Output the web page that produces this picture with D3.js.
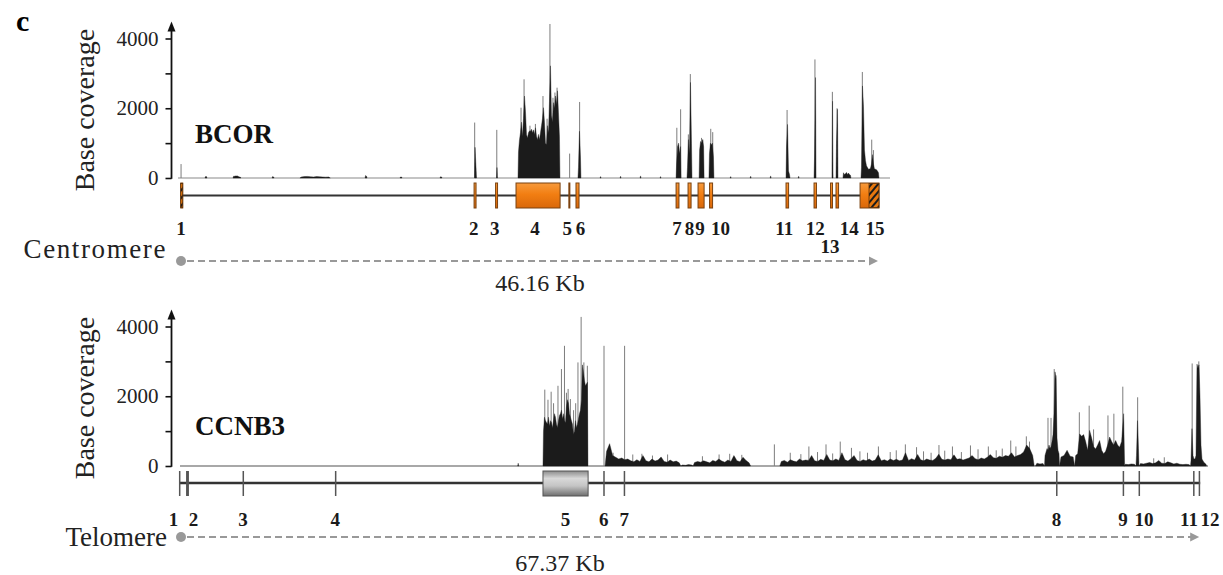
<!DOCTYPE html>
<html>
<head>
<meta charset="utf-8">
<script src="https://cdn.jsdelivr.net/npm/d3@7"></script>
<style>
  html, body { margin: 0; padding: 0; background: #fff; }
  svg { display: block; font-family: "Liberation Serif", "Times New Roman", serif; }
</style>
</head>
<body>
<svg id="chart" width="1223" height="575"></svg>
<script>
// ---------------- data ----------------
const bcorLengthKb = 46.16;
const ccnb3LengthKb = 67.37;

const coverageTicks = [0, 1000, 2000, 3000, 4000];
const coverageTickLabels = ["0", "", "2000", "", "4000"];

// exons: [startKb, endKb]
const bcorExons = [
  [0.05, 0.18], [19.42, 19.55], [20.84, 20.97], [22.19, 25.10], [25.68, 25.73],
  [26.15, 26.35], [32.76, 32.95], [33.55, 33.75], [34.21, 34.61], [34.97, 35.17],
  [40.02, 40.19], [41.87, 42.03], [42.96, 43.09], [43.32, 43.49], [44.91, 46.16]
];
const bcorExonLabels = ["1","2","3","4","5","6","7","8","9","10","11","12","13","14","15"];
// untranslated parts (hatched)
const bcorUtr = [[0.05, 0.18], [45.50, 46.16]];

// read depth runs: [startKb, binKb, depths...]
const bcorDepthRuns = [
  [1.65, 0.066, [40, 40]],
  [3.50, 0.066, [50, 50, 60, 60, 60, 40, 30, 20]],
  [6.08, 0.066, [40, 30]],
  [7.92, 0.2, [30, 40, 45, 35, 30, 40, 35, 30, 25, 30]],
  [12.22, 0.066, [70, 50]],
  [14.53, 0.066, [30, 30]],
  [17.17, 0.066, [35, 30]],
  [19.45, 0.066, [880, 300]],
  [20.90, 0.066, [300]],
  [22.32, 0.066, [750, 1100, 1300, 1600, 1200, 1700, 2350, 1900, 1250, 1150,
                  1300, 1350, 1340, 1400, 1300, 1380, 1250, 1440, 1200, 1100,
                  1250, 1100, 1300, 1500, 1700, 2016, 1600, 1000, 960, 1500,
                  1300, 2200, 3216, 1800, 1600, 2160, 2000, 2350, 2100, 2500,
                  1870, 1200]],
  [26.28, 0.066, [300, 1340, 600]],
  [27.74, 0.066, [40]], [29.06, 0.066, [50]], [30.38, 0.066, [60]], [31.70, 0.066, [40]],
  [32.76, 0.066, [400, 900, 1000, 700, 900]],
  [33.48, 0.066, [300, 1100, 700, 2740, 1000]],
  [34.28, 0.066, [800, 1050, 1000, 1100, 900]],
  [34.93, 0.066, [700, 1000, 950, 1000, 600]],
  [36.33, 0.066, [40]], [37.65, 0.066, [50]], [38.97, 0.066, [60]],
  [40.02, 0.066, [900, 1536, 200, 100]],
  [40.82, 0.066, [50]],
  [41.87, 0.066, [600, 2880]],
  [43.06, 0.066, [2200]],
  [43.32, 0.066, [1000, 1970]],
  [43.78, 0.066, [150, 100, 120, 160, 100, 140, 100, 80]],
  [44.97, 0.066, [300, 2640, 2060, 800, 500, 350, 300, 250, 260, 280, 400, 670, 400, 260, 250, 240, 200, 150]]
];
// single-base maxima: [kb, depth]
const bcorPeaks = [
  [0.07, 400], [19.46, 1590], [20.92, 1380], [22.52, 2016], [22.72, 2830], [23.11, 1500],
  [23.47, 1550], [23.97, 2350], [24.24, 1700], [24.43, 4416], [24.63, 2300], [24.76, 2450],
  [24.90, 2590], [25.73, 700], [26.39, 2180], [32.81, 1440], [33.06, 1970], [33.57, 1250],
  [33.70, 2980], [34.44, 1150], [34.52, 1100], [35.05, 1410], [35.18, 1315], [40.09, 1950],
  [41.93, 3400], [43.08, 2470], [43.39, 2000], [45.06, 3040], [45.68, 1100], [45.79, 800]
];

const ccnb3Exons = [
  [-0.07, -0.01], [0.40, 0.59], [4.13, 4.19], [10.23, 10.29], [23.97, 26.95],
  [27.95, 28.01], [29.30, 29.36], [57.85, 57.91], [62.25, 62.31], [63.30, 63.36],
  [66.90, 66.96], [67.27, 67.33]
];
const ccnb3ExonLabels = ["1","2","3","4","5","6","7","8","9","10","11","12"];

const ccnb3DepthRuns = [
  [22.30, 0.066, [80]],
  [23.97, 0.066, [1000, 1400, 1300, 1250, 1200, 1400, 1150, 1300, 1250, 1100,
                  1300, 1500, 1400, 1200, 1100, 1300, 1450, 1500, 1600, 1350,
                  1500, 1300, 1250, 1700, 1900, 1800, 1500, 1400, 1300, 1200,
                  900, 1000, 1300, 1100, 1200, 1350, 1500, 1600, 1900, 2900,
                  2700, 2450, 2300, 2350, 2400]],
  [28.07, 0.2, [420, 640, 300, 250, 200, 230, 180, 200, 150, 120, 180, 130, 300,
                150, 120, 200, 140, 170, 260, 130, 110, 170, 120, 140, 90]],
  [33.08, 0.2, [30, 20, 40, 30]],
  [33.88, 0.2, [100, 130, 110, 150, 120, 90, 160, 130, 200, 140, 110, 170, 130,
                300, 150, 120, 250, 160, 90]],
  [39.61, 0.2, [130, 160, 110, 180, 140, 120, 200, 150, 170, 160, 300, 150, 130, 190,
                160, 330, 170, 150, 200, 160, 380, 180, 140, 210, 300, 160, 130, 180,
                150, 200, 140, 170, 320, 150, 180, 140, 200, 160, 190, 150, 170, 380,
                160, 210, 170, 330, 180, 150, 200, 170, 160, 220, 340, 190, 170, 200,
                180, 320, 190, 210, 170, 200, 230, 300, 210, 180, 230, 200, 250, 330,
                240, 220, 280, 250, 300, 280, 380, 260, 300, 330, 400, 600, 500, 300]],
  [56.49, 0.2, [80, 60, 70]],
  [57.09, 0.066, [300, 400, 500, 450, 600, 500, 550, 700, 900, 1500, 2700, 2500, 800, 450, 350]],
  [58.08, 0.2, [260, 300, 450, 280, 260]],
  [59.08, 0.132, [300, 350, 920, 850, 900, 700, 450, 1020, 800, 550, 490, 600, 730,
                  450, 350, 420, 600, 830, 700, 600, 730, 600, 540, 700, 1500]],
  [62.33, 0.2, [50, 40, 60, 50]],
  [63.13, 0.066, [300, 1300, 500]],
  [63.33, 0.2, [70, 60, 80, 100, 70, 90, 160, 80, 70, 120, 90, 60, 80, 50, 40, 50, 40]],
  [66.73, 0.066, [150, 1070, 300, 200, 200, 300, 2920, 2800, 2900, 2000, 600, 200, 150, 100, 80, 50]]
];
const ccnb3Peaks = [
  [24.09, 2190], [24.30, 1900], [24.51, 2130], [24.67, 1800], [24.96, 2300], [25.19, 2780],
  [25.39, 3446], [25.52, 2100], [25.63, 2210], [25.78, 1920], [25.99, 1600], [26.13, 1800],
  [26.28, 2970], [26.49, 4275], [26.67, 2970], [26.90, 2875], [28.00, 3446], [29.36, 3446],
  [28.60, 380], [29.90, 330], [30.50, 350], [31.20, 300], [32.20, 330], [34.50, 280],
  [35.60, 330], [36.30, 350], [37.10, 320],
  [39.25, 620], [40.30, 380], [41.00, 340], [41.53, 560], [42.10, 400], [42.66, 620],
  [43.10, 360], [43.60, 700], [44.34, 520], [44.90, 420], [45.40, 380], [46.12, 560],
  [46.90, 400], [47.30, 450], [47.90, 620], [48.64, 540], [49.10, 420], [49.60, 380],
  [50.12, 600], [50.50, 440], [51.01, 560], [51.60, 400], [52.20, 590], [52.70, 480],
  [53.38, 560], [53.90, 450], [54.30, 500], [54.86, 730], [55.20, 560], [55.89, 850],
  [56.10, 700], [57.32, 1380], [57.52, 1380], [57.73, 2780], [57.85, 2600],
  [59.39, 1540], [60.04, 1730], [60.33, 1050], [61.28, 1450], [61.67, 1500], [62.26, 2275],
  [63.24, 1970], [64.30, 220], [65.00, 250], [66.84, 2940], [67.28, 3000]
];

// ---------------- drawing ----------------
const svg = d3.select("#chart");
const PX_PER_KB = 15.143;
const ORIGIN_X = 180;
const AXIS_X = 171.5;

const defs = svg.append("defs");
const og = defs.append("linearGradient").attr("id", "exonOrange")
  .attr("x1", 0).attr("y1", 0).attr("x2", 0).attr("y2", 1);
og.append("stop").attr("offset", "0%").attr("stop-color", "#f79a3c");
og.append("stop").attr("offset", "45%").attr("stop-color", "#f27e12");
og.append("stop").attr("offset", "100%").attr("stop-color", "#d9680a");

const gg = defs.append("linearGradient").attr("id", "exonGrey")
  .attr("x1", 0).attr("y1", 0).attr("x2", 0).attr("y2", 1);
gg.append("stop").attr("offset", "0%").attr("stop-color", "#8c8c8c");
gg.append("stop").attr("offset", "30%").attr("stop-color", "#d9d9d9");
gg.append("stop").attr("offset", "60%").attr("stop-color", "#c4c4c4");
gg.append("stop").attr("offset", "100%").attr("stop-color", "#6e6e6e");

const hatch = defs.append("pattern").attr("id", "utrHatch")
  .attr("patternUnits", "userSpaceOnUse").attr("width", 5).attr("height", 5)
  .attr("patternTransform", "rotate(40)");
hatch.append("rect").attr("width", 5).attr("height", 5).attr("fill", "#e8780e");
hatch.append("rect").attr("width", 2).attr("height", 5).attr("fill", "#1c1c1c");

svg.append("text").attr("x", 16).attr("y", 31)
  .attr("font-size", 30).attr("font-weight", "bold").text("c");

function drawPanel(cfg) {
  const g = svg.append("g");
  const x = d3.scaleLinear().domain([0, cfg.lengthKb])
    .range([ORIGIN_X, ORIGIN_X + cfg.lengthKb * PX_PER_KB]);
  const y = d3.scaleLinear().domain([0, 4000]).range([cfg.y0, cfg.y0 - 139.5]);

  // y axis
  const axis = d3.axisLeft(y).tickValues(coverageTicks)
    .tickFormat((d, i) => coverageTickLabels[i]).tickSize(6).tickPadding(7);
  const ag = g.append("g").attr("transform", `translate(${AXIS_X},0)`).call(axis);
  ag.select(".domain").remove();
  ag.selectAll(".tick line").attr("stroke", "#111").attr("stroke-width", 1.6);
  ag.selectAll(".tick text").attr("font-size", 21).attr("fill", "#222")
    .attr("font-family", "Liberation Serif, serif");
  const tipY = y(4000) - 17;
  g.append("line").attr("x1", AXIS_X).attr("x2", AXIS_X)
    .attr("y1", y(0) + 0.8).attr("y2", tipY + 6)
    .attr("stroke", "#111").attr("stroke-width", 1.8);
  g.append("path")
    .attr("d", `M${AXIS_X},${tipY} L${AXIS_X - 4},${tipY + 10} L${AXIS_X + 4},${tipY + 10} Z`)
    .attr("fill", "#111");

  g.append("text")
    .attr("transform", `translate(94,${y(0) - 68}) rotate(-90)`)
    .attr("text-anchor", "middle").attr("font-size", 28).attr("fill", "#222")
    .text("Base coverage");

  g.append("text").attr("x", 195).attr("y", cfg.nameY)
    .attr("font-size", 27).attr("font-weight", "bold").attr("fill", "#111")
    .text(cfg.name);

  // coverage baseline
  g.append("line").attr("x1", cfg.baseX0).attr("x2", cfg.baseX1)
    .attr("y1", y(0)).attr("y2", y(0))
    .attr("stroke", cfg.baseColor).attr("stroke-width", cfg.baseWidth);

  // single-base maxima (thin grey lines)
  g.append("g").selectAll("line").data(cfg.peaks).join("line")
    .attr("x1", d => x(d[0])).attr("x2", d => x(d[0]))
    .attr("y1", y(0)).attr("y2", d => y(d[1]))
    .attr("stroke", "#7d7d7d").attr("stroke-width", 1);

  // binned depth: one filled profile per run
  const profile = d3.area().x(d => x(d[0])).y0(y(0)).y1(d => y(d[1]));
  const runPoints = cfg.runs.map(([start, step, vals]) => [
    [start, 0],
    ...vals.map((v, i) => [start + (i + 0.5) * step, v]),
    [start + vals.length * step, 0]
  ]);
  g.append("g").selectAll("path").data(runPoints).join("path")
    .attr("d", profile).attr("fill", "#1b1b1b")
    .attr("stroke", "#1b1b1b").attr("stroke-width", 0.4);

  // gene structure
  g.append("line").attr("x1", x(0)).attr("x2", x(cfg.lengthKb))
    .attr("y1", cfg.geneY).attr("y2", cfg.geneY)
    .attr("stroke", "#333").attr("stroke-width", cfg.geneLineWidth);

  cfg.drawExons(g, x);

  // exon numbers
  g.append("g").selectAll("text").data(cfg.exons).join("text")
    .attr("x", (d, i) => x((d[0] + d[1]) / 2) + cfg.labelNudge[i])
    .attr("y", (d, i) => cfg.labelY + (cfg.secondRow.includes(i) ? 18 : 0))
    .attr("text-anchor", "middle").attr("font-size", 19).attr("font-weight", "bold")
    .attr("fill", "#1a1a1a")
    .text((d, i) => cfg.labels[i]);

  // orientation arrow
  g.append("circle").attr("cx", x(0) + 1).attr("cy", cfg.arrowY).attr("r", 5).attr("fill", "#999");
  const endX = x(cfg.lengthKb) - 1;
  g.append("line").attr("x1", x(0) + 7).attr("x2", endX - 6)
    .attr("y1", cfg.arrowY).attr("y2", cfg.arrowY)
    .attr("stroke", "#999").attr("stroke-width", 2.2).attr("stroke-dasharray", "7 4");
  g.append("path")
    .attr("d", `M${endX},${cfg.arrowY} L${endX - 9},${cfg.arrowY - 4.5} L${endX - 9},${cfg.arrowY + 4.5} Z`)
    .attr("fill", "#999");
  g.append("text").attr("x", 167).attr("y", cfg.endLabelY)
    .attr("text-anchor", "end").attr("font-size", 27).attr("fill", "#222")
    .attr("letter-spacing", cfg.endLabelSpacing)
    .text(cfg.endLabel);
  g.append("text").attr("x", cfg.lengthLabelX).attr("y", cfg.lengthLabelY)
    .attr("text-anchor", "middle").attr("font-size", 24).attr("fill", "#222")
    .text(`${cfg.lengthKb.toFixed(2)} Kb`);
}

drawPanel({
  name: "BCOR", nameY: 143,
  lengthKb: bcorLengthKb, y0: 178,
  runs: bcorDepthRuns, peaks: bcorPeaks,
  baseX0: 178, baseX1: 890, baseColor: "#8a8a8a", baseWidth: 1.2,
  geneY: 195.5, geneLineWidth: 2,
  exons: bcorExons, labels: bcorExonLabels,
  labelNudge: [-0.7, -1.4, -1.7, -3, -2, 3, -0.5, 0, -1, 9.5, -3, 0, -1.5, 12, 5.5],
  secondRow: [12], labelY: 235,
  arrowY: 261, endLabel: "Centromere", endLabelY: 258, endLabelSpacing: 1.6,
  lengthLabelX: 540, lengthLabelY: 291,
  drawExons: (g, x) => {
    g.append("g").selectAll("rect").data(bcorExons).join("rect")
      .attr("x", d => x(d[0])).attr("width", d => Math.max(1, x(d[1]) - x(d[0])))
      .attr("y", 183).attr("height", 25)
      .attr("fill", "url(#exonOrange)").attr("stroke", "#7a4210").attr("stroke-width", 1);
    g.append("g").selectAll("rect").data(bcorUtr).join("rect")
      .attr("x", d => x(d[0])).attr("width", d => x(d[1]) - x(d[0]))
      .attr("y", 183.5).attr("height", 24)
      .attr("fill", "url(#utrHatch)").attr("stroke", "#5a300a").attr("stroke-width", 0.8);
  }
});

drawPanel({
  name: "CCNB3", nameY: 435,
  lengthKb: ccnb3LengthKb, y0: 466,
  runs: ccnb3DepthRuns, peaks: ccnb3Peaks,
  baseX0: 180, baseX1: 1208, baseColor: "#a8a8a8", baseWidth: 2,
  geneY: 483, geneLineWidth: 2.6,
  exons: ccnb3Exons, labels: ccnb3ExonLabels,
  labelNudge: [-6, 6, 0, 0, 0, 0, 0, 0, 0, 5, -4.5, 11],
  secondRow: [], labelY: 526,
  arrowY: 537, endLabel: "Telomere", endLabelY: 546, endLabelSpacing: 0,
  lengthLabelX: 560, lengthLabelY: 571,
  drawExons: (g, x) => {
    const box = ccnb3Exons.filter(d => d[1] - d[0] > 1);
    const ticks = ccnb3Exons.filter(d => d[1] - d[0] <= 1);
    g.append("g").selectAll("rect").data(ticks).join("rect")
      .attr("x", d => x(d[0])).attr("width", d => Math.max(1.5, x(d[1]) - x(d[0])))
      .attr("y", 471).attr("height", 25).attr("fill", "#555");
    g.append("g").selectAll("rect").data(box).join("rect")
      .attr("x", d => x(d[0])).attr("width", d => x(d[1]) - x(d[0]))
      .attr("y", 471).attr("height", 25)
      .attr("fill", "url(#exonGrey)").attr("stroke", "#555").attr("stroke-width", 1);
  }
});
</script>
</body>
</html>
